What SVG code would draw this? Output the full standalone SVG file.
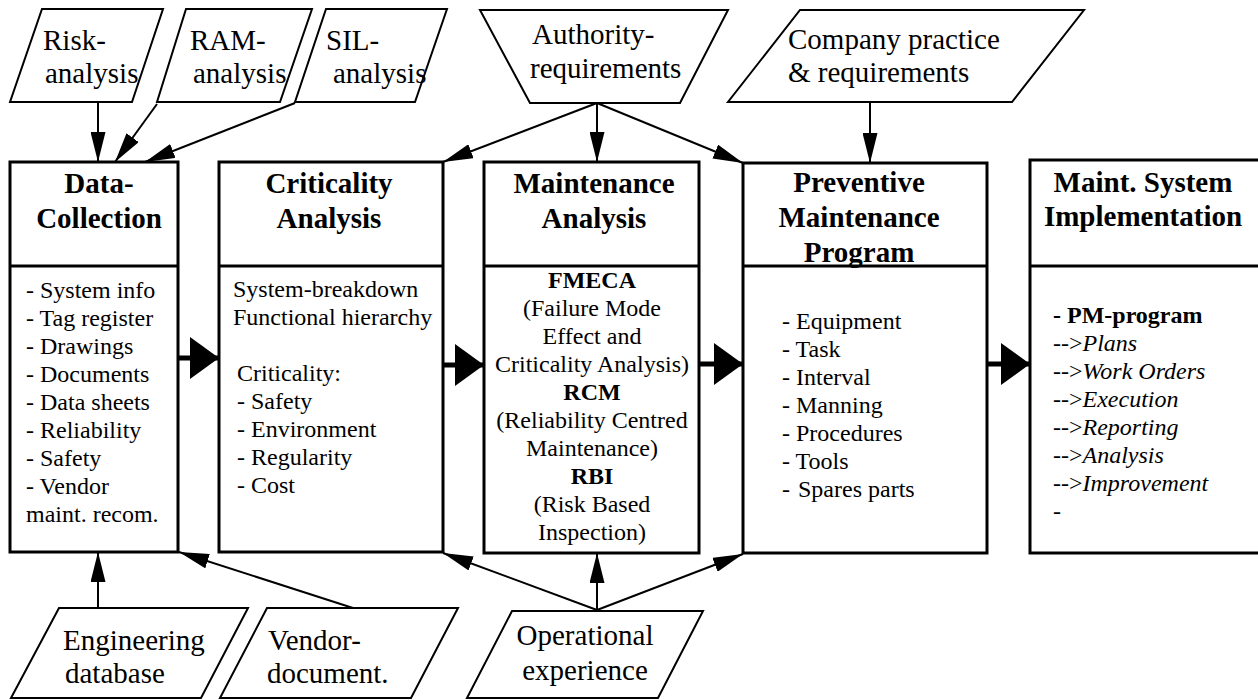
<svg xmlns="http://www.w3.org/2000/svg" width="1258" height="700" viewBox="0 0 1258 700" font-family="'Liberation Serif', 'Times New Roman', Times, serif">
<defs>
<style>
text{font-family:'Liberation Serif','Times New Roman',Times,serif;fill:#000}
.io{fill:#fff;stroke:#000;stroke-width:2}
.box{fill:#fff;stroke:#000;stroke-width:3}
.div{stroke:#000;stroke-width:3}
.big{font-size:29px}
.ttl{font-size:29px;font-weight:bold;text-anchor:middle}
.body{font-size:24px}
.c{text-anchor:middle}
.b{font-weight:bold}
.i{font-style:italic}
.thin{stroke:#000;stroke-width:2;fill:none;marker-end:url(#ah)}
.thick{stroke:#000;stroke-width:5;fill:none;marker-end:url(#ahb)}
</style>
<marker id="ah" markerUnits="userSpaceOnUse" markerWidth="30" markerHeight="15" refX="30" refY="7.5" orient="auto">
<path d="M0,0 L30,7.5 L0,15 z" fill="#000"/>
</marker>
<marker id="ahb" markerUnits="userSpaceOnUse" markerWidth="29" markerHeight="42" refX="29" refY="21" orient="auto">
<path d="M0,0 L29,21 L0,42 z" fill="#000"/>
</marker>
</defs>
<rect width="1258" height="700" fill="#fff"/>

<g id="connectors">
<line class="thin" x1="98" y1="102" x2="98" y2="162"/>
<line class="thin" x1="157" y1="104" x2="115" y2="162"/>
<line class="thin" x1="295" y1="103" x2="145" y2="162"/>
<line class="thin" x1="597" y1="103" x2="443" y2="162"/>
<line class="thin" x1="597" y1="103" x2="597" y2="162"/>
<line class="thin" x1="597" y1="103" x2="743" y2="163"/>
<line class="thin" x1="870" y1="102" x2="870" y2="163"/>
<line class="thin" x1="98" y1="608" x2="98" y2="552"/>
<line class="thin" x1="353" y1="608" x2="179" y2="552"/>
<line class="thin" x1="597" y1="610" x2="443" y2="553"/>
<line class="thin" x1="597" y1="610" x2="597" y2="553"/>
<line class="thin" x1="597" y1="610" x2="743" y2="554"/>
<line class="thick" x1="178" y1="358" x2="219" y2="358"/>
<line class="thick" x1="443" y1="365" x2="484" y2="365"/>
<line class="thick" x1="699" y1="364" x2="743" y2="364"/>
<line class="thick" x1="987" y1="364" x2="1030" y2="364"/>
</g>

<g id="risk">
<polygon class="io" points="42,9 163,9 132,102 10,102"/>
<text class="big" x="43" y="50">Risk-</text>
<text class="big" x="45" y="83">analysis</text>
</g>
<g id="ram">
<polygon class="io" points="186,9 312,9 280,102 157,102"/>
<text class="big" x="190" y="50">RAM-</text>
<text class="big" x="193" y="83">analysis</text>
</g>
<g id="sil">
<polygon class="io" points="326,9 447,9 415,102 295,102"/>
<text class="big" x="326" y="50">SIL-</text>
<text class="big" x="333" y="83">analysis</text>
</g>
<g id="authority">
<polygon class="io" points="480,10 728,10 680,103 530,103"/>
<text class="big" x="532" y="44">Authority-</text>
<text class="big" x="530" y="78">requirements</text>
</g>
<g id="company">
<polygon class="io" points="800,10 1084,10 1012,102 728,102"/>
<text class="big" x="788" y="49">Company practice</text>
<text class="big" x="788" y="82">&amp; requirements</text>
</g>

<g id="data-collection">
<rect class="box" x="10" y="162" width="168" height="390"/>
<line class="div" x1="10" y1="266" x2="178" y2="266"/>
<text class="ttl" x="99" y="193">Data-</text>
<text class="ttl" x="99" y="228">Collection</text>
<text class="body" x="26" y="298">- System info</text>
<text class="body" x="26" y="326">- Tag register</text>
<text class="body" x="26" y="354">- Drawings</text>
<text class="body" x="26" y="382">- Documents</text>
<text class="body" x="26" y="410">- Data sheets</text>
<text class="body" x="26" y="438">- Reliability</text>
<text class="body" x="26" y="466">- Safety</text>
<text class="body" x="26" y="494">- Vendor</text>
<text class="body" x="26" y="522">maint. recom.</text>
</g>

<g id="criticality">
<rect class="box" x="219" y="162" width="224" height="390"/>
<line class="div" x1="219" y1="266" x2="443" y2="266"/>
<text class="ttl" x="329" y="193">Criticality</text>
<text class="ttl" x="329" y="228">Analysis</text>
<text class="body" x="233" y="297">System-breakdown</text>
<text class="body" x="233" y="325">Functional hierarchy</text>
<text class="body" x="237" y="381">Criticality:</text>
<text class="body" x="237" y="409">- Safety</text>
<text class="body" x="237" y="437">- Environment</text>
<text class="body" x="237" y="465">- Regularity</text>
<text class="body" x="237" y="493">- Cost</text>
</g>

<g id="maintenance-analysis">
<rect class="box" x="484" y="162" width="215" height="391"/>
<line class="div" x1="484" y1="266" x2="699" y2="266"/>
<text class="ttl" x="594" y="193">Maintenance</text>
<text class="ttl" x="594" y="228">Analysis</text>
<text class="body c b" x="592" y="288">FMECA</text>
<text class="body c" x="592" y="316">(Failure Mode</text>
<text class="body c" x="592" y="344">Effect and</text>
<text class="body c" x="592" y="372">Criticality Analysis)</text>
<text class="body c b" x="592" y="400">RCM</text>
<text class="body c" x="592" y="428">(Reliability Centred</text>
<text class="body c" x="592" y="456">Maintenance)</text>
<text class="body c b" x="592" y="484">RBI</text>
<text class="body c" x="592" y="512">(Risk Based</text>
<text class="body c" x="592" y="540">Inspection)</text>
</g>

<g id="preventive">
<rect class="box" x="743" y="163" width="244" height="390"/>
<line class="div" x1="743" y1="266" x2="987" y2="266"/>
<text class="ttl" x="859" y="192">Preventive</text>
<text class="ttl" x="859" y="227">Maintenance</text>
<text class="ttl" x="859" y="262">Program</text>
<text class="body" x="782" y="329">- Equipment</text>
<text class="body" x="782" y="357">- Task</text>
<text class="body" x="782" y="385">- Interval</text>
<text class="body" x="782" y="413">- Manning</text>
<text class="body" x="782" y="441">- Procedures</text>
<text class="body" x="782" y="469">- Tools</text>
<text class="body" x="782" y="497">- <tspan dx="2">Spares parts</tspan></text>
</g>

<g id="implementation">
<rect class="box" x="1030" y="160" width="240" height="393"/>
<line class="div" x1="1030" y1="266" x2="1270" y2="266"/>
<text class="ttl" x="1143" y="192">Maint. System</text>
<text class="ttl" x="1143" y="226">Implementation</text>
<text class="body b" x="1053" y="323">- PM-program</text>
<text class="body" x="1053" y="351">--&gt;<tspan class="i">Plans</tspan></text>
<text class="body" x="1053" y="379">--&gt;<tspan class="i">Work Orders</tspan></text>
<text class="body" x="1053" y="407">--&gt;<tspan class="i">Execution</tspan></text>
<text class="body" x="1053" y="435">--&gt;<tspan class="i">Reporting</tspan></text>
<text class="body" x="1053" y="463">--&gt;<tspan class="i">Analysis</tspan></text>
<text class="body" x="1053" y="491">--&gt;<tspan class="i">Improvement</tspan></text>
<text class="body" x="1053" y="519">-</text>
</g>

<g id="engineering">
<polygon class="io" points="59,608 248,608 201,698 11,698"/>
<text class="big" x="63" y="650">Engineering</text>
<text class="big" x="65" y="683">database</text>
</g>
<g id="vendor">
<polygon class="io" points="267,608 458,608 411,698 220,698"/>
<text class="big" x="268" y="650">Vendor-</text>
<text class="big" x="267" y="683">document.</text>
</g>
<g id="operational">
<polygon class="io" points="512,611 703,611 658,698 467,698"/>
<text class="big c" x="585" y="645">Operational</text>
<text class="big c" x="585" y="680">experience</text>
</g>
</svg>
